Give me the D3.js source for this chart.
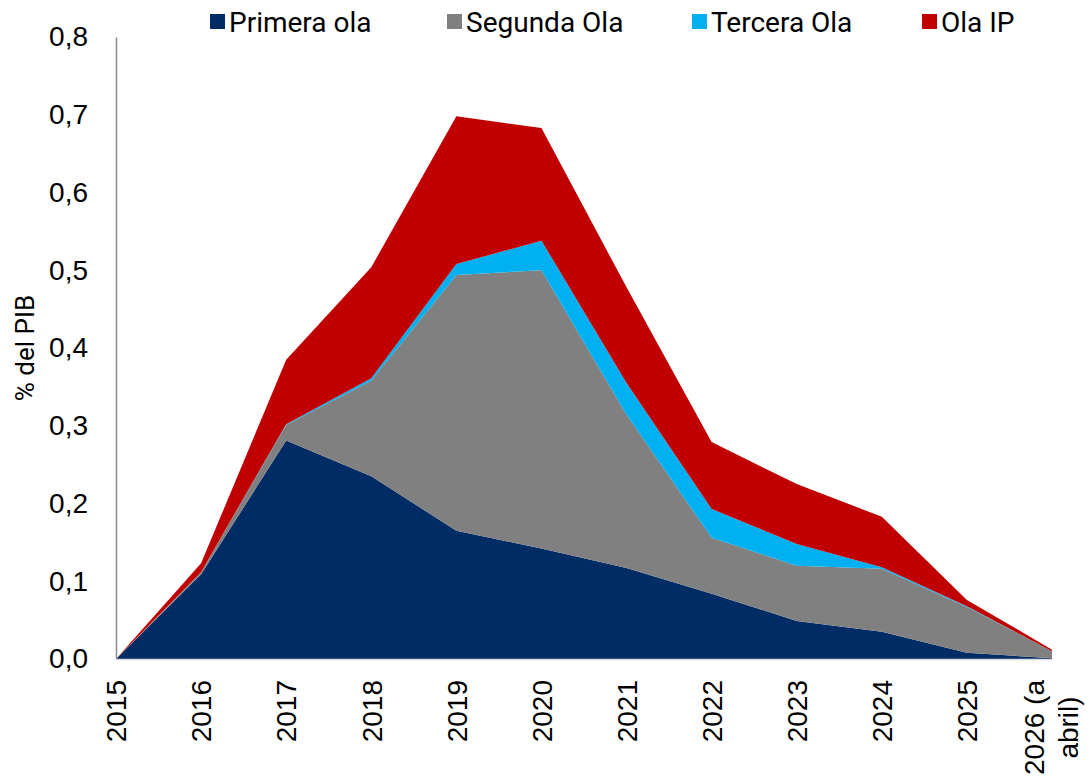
<!DOCTYPE html>
<html>
<head>
<meta charset="utf-8">
<script src="https://cdn.jsdelivr.net/npm/d3@7"></script>
<style>
  body { margin: 0; background: #fff; }
  svg { font-family: Roboto, "Liberation Sans", sans-serif; }
  .tick text { fill: #000; }
</style>
</head>
<body>
<svg id="chart" width="1089" height="778"></svg>
<script>
// categories and series (% del PIB)
const years = ["2015", "2016", "2017", "2018", "2019", "2020", "2021", "2022", "2023", "2024", "2025", "2026 (a abril)"];
const primeraOla = [0, 0.109, 0.281, 0.235, 0.165, 0.142, 0.117, 0.084, 0.049, 0.035, 0.008, 0.001];
const segundaOla = [0, 0.003, 0.020, 0.123, 0.329, 0.358, 0.197, 0.072, 0.071, 0.081, 0.059, 0.009];
const terceraOla = [0, 0.000, 0.001, 0.003, 0.014, 0.038, 0.041, 0.037, 0.028, 0.002, 0.001, 0.000];
const olaIP      = [0, 0.011, 0.083, 0.143, 0.190, 0.145, 0.123, 0.086, 0.077, 0.065, 0.008, 0.002];
const seriesNames = ["Primera ola", "Segunda Ola", "Tercera Ola", "Ola IP"];
const yTicks = [0, 0.1, 0.2, 0.3, 0.4, 0.5, 0.6, 0.7, 0.8];

const colors = ["#002c66", "#808080", "#00b0f0", "#c00000"];

const svg = d3.select("#chart");
const margin = { left: 116, right: 37, top: 37, bottom: 119 };
const width = 1089, height = 778;

const rows = years.map((y, i) => ({
    year: y,
    "Primera ola": primeraOla[i],
    "Segunda Ola": segundaOla[i],
    "Tercera Ola": terceraOla[i],
    "Ola IP": olaIP[i]
}));

const stacked = d3.stack().keys(seriesNames)(rows);

const x = d3.scalePoint()
    .domain(years)
    .range([margin.left, width - margin.right]);

const y = d3.scaleLinear()
    .domain([0, 0.8])
    .range([height - margin.bottom, margin.top]);

const area = d3.area()
    .x(d => x(d.data.year))
    .y0(d => y(d[0]))
    .y1(d => y(d[1]));

svg.append("g")
    .selectAll("path")
    .data(stacked)
    .enter()
    .append("path")
        .attr("fill", (d, i) => colors[i])
        .attr("d", area);

// y axis
const yAxis = svg.append("g")
    .attr("transform", `translate(${margin.left},0)`)
    .call(d3.axisLeft(y)
        .tickValues(yTicks)
        .tickSize(0)
        .tickPadding(28)
        .tickFormat(d => d3.format(".1f")(d).replace(".", ",")));
yAxis.select(".domain").attr("stroke", "#8c8c8c").attr("stroke-width", 1.5);
yAxis.selectAll(".tick text").attr("font-size", 28);

// x axis
const xAxis = svg.append("g")
    .attr("transform", `translate(0,${height - margin.bottom})`)
    .call(d3.axisBottom(x).tickSize(0).tickFormat(""));
xAxis.select(".domain").attr("stroke", "#d9d9d9").attr("stroke-width", 1.5);

xAxis.selectAll(".tick")
    .each(function(d) {
        let g = d3.select(this);
        let parts = d.startsWith("2026") ? ["2026 (a", "abril)"] : [d];
        if (parts.length === 1) {
            g.append("text")
                .attr("transform", "rotate(-90)")
                .attr("text-anchor", "end")
                .attr("font-size", 28)
                .attr("fill", "#000")
                .attr("x", -21)
                .attr("y", 0)
                .attr("dy", "0.35em")
                .text(d);
        } else {
            // two-line label, second line centred on the first
            let first = g.append("text")
                .attr("transform", "rotate(-90)")
                .attr("text-anchor", "end")
                .attr("font-size", 28)
                .attr("fill", "#000")
                .attr("x", -21)
                .attr("y", -18)
                .attr("dy", "0.35em")
                .text(parts[0]);
            let len = first.node().getComputedTextLength();
            g.append("text")
                .attr("transform", "rotate(-90)")
                .attr("text-anchor", "middle")
                .attr("font-size", 28)
                .attr("fill", "#000")
                .attr("x", -21 - len / 2)
                .attr("y", 16)
                .attr("dy", "0.35em")
                .text(parts[1]);
        }
    });

// y label
svg.append("text")
    .attr("transform", `translate(34,${(margin.top + height - margin.bottom) / 2}) rotate(-90)`)
    .attr("text-anchor", "middle")
    .attr("font-size", 26)
    .text("% del PIB");

// legend
const legendX = [210, 447, 692, 922];
const legend = svg.append("g")
    .selectAll("g")
    .data(seriesNames)
    .enter()
    .append("g")
        .attr("transform", (d, i) => `translate(${legendX[i]},22)`);

legend.append("rect")
    .attr("x", 0)
    .attr("y", -8)
    .attr("width", 15)
    .attr("height", 15)
    .attr("fill", (d, i) => colors[i]);

legend.append("text")
    .attr("x", 19)
    .attr("y", 10)
    .attr("font-size", 28)
    .text(d => d);
</script>
</body>
</html>
